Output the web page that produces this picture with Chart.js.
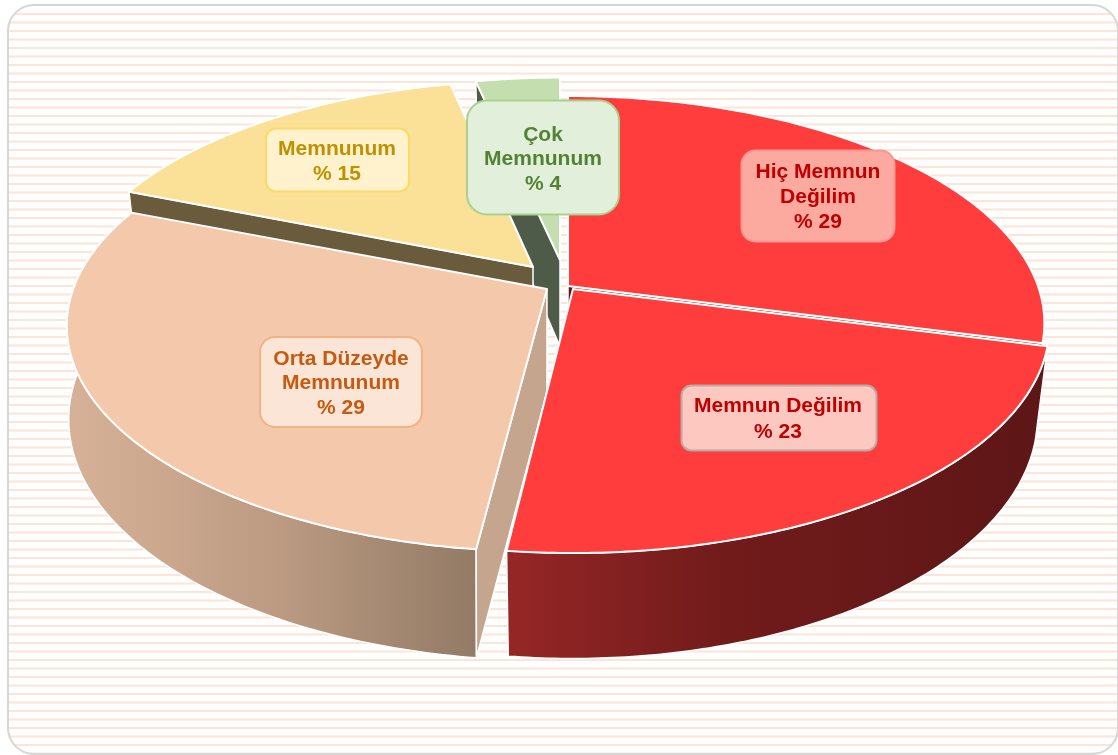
<!DOCTYPE html>
<html><head><meta charset="utf-8">
<style>html,body{margin:0;padding:0;background:#fff}canvas{display:block}</style>
<script src="https://cdn.jsdelivr.net/npm/chart.js@4"></script></head>
<body><canvas id="c" width="1118" height="755"></canvas>
<script>
const categories = ['Hiç Memnun Değilim','Memnun Değilim','Orta Düzeyde Memnunum','Memnunum','Çok Memnunum'];
const percentValues = [29,23,29,15,4];
const labelLines = [['Hiç Memnun','Değilim','% 29'],['Memnun Değilim','% 23'],['Orta Düzeyde','Memnunum','% 29'],['Memnunum','% 15'],['Çok','Memnunum','% 4']];
const topColors = ['#ff3d3d','#ff3d3d','#f4c8ab','#fbe197','#c5deb0'];

const P = {rx:470, ry:221, k:0.163, depth:91};
// per-slice placement of the exploded wedges (screen translate, scale, small boundary nudge in degrees)
const place = [
 {tx:568,ty:286,sx:1,sy:1,dz:1,shrink:0.025,a0:0,a1:0,cuts:['b'],cut:'#5f1616'},
 {tx:573,ty:289,sx:1,sy:1,dz:0.97,shrink:0.025,a0:0,a1:-0.4,cuts:[],wall:[[0,'#952626'],[0.4,'#721b1b'],[1,'#5e1616']],wx:[510,1040]},
 {tx:547,ty:289,sx:1.008,sy:0.995,dz:1,shrink:0.004,a0:0,a1:0,cuts:['a'],cut:'#c5a58d',apexZ:1.13,wall:[[0,'#d6b197'],[0.5,'#bc9b82'],[1,'#927a65']],wx:[72,478]},
 {tx:533,ty:267,sx:0.98,sy:0.98,dz:1,shrink:0.025,a0:0,a1:2.4,cuts:['a'],cut:'#695b3c'},
 {tx:560,ty:260,sx:0.96,sy:0.96,dz:0.95,shrink:0.025,a0:1.9,a1:0,cuts:['a'],cut:'#4f5b49'}
];
const drawOrder = [4,3,0,2,1];
const boxes = [
 {x:741.5,y:150.5,w:153,h:91,r:14,fill:'#fca99f',line:'#f29a92',text:'#c00000',cx:818,ys:[172,197,222]},
 {x:681.5,y:385.5,w:195,h:65,r:10,fill:'#fcc8c0',line:'#b9aaa6',text:'#c00000',cx:778,ys:[406,432]},
 {x:260,y:337,w:162,h:90,r:15,fill:'#fbe5d6',line:'#f4b183',text:'#c55a11',cx:341,ys:[359,383,408]},
 {x:266,y:128.5,w:143,h:63,r:10,fill:'#fff2cc',line:'#ffd966',text:'#bf9000',cx:337,ys:[149,174]},
 {x:467,y:100.5,w:152,h:114,r:20,fill:'#e2efda',line:'#a9d18e',text:'#548235',cx:543,ys:[135,159,184]}
];

function pt(pl,ang,r,z){
  // ang: Chart.js angle, -PI/2 at the top, clockwise
  const u=r*Math.cos(ang), v=r*Math.sin(ang), s=1/(1-P.k*v);
  return [pl.tx+P.rx*pl.sx*u*s*(1-z*pl.shrink), pl.ty+P.ry*pl.sy*v*s+z*P.depth*pl.dz*s];
}
function poly(ctx,pts){ctx.beginPath();pts.forEach((p,i)=>i?ctx.lineTo(p[0],p[1]):ctx.moveTo(p[0],p[1]));ctx.closePath();}
function arcPts(pl,a,b,z){const n=120,o=[];for(let i=0;i<=n;i++)o.push(pt(pl,a+(b-a)*i/n,1,z));return o;}

const solid3d = {
 id:'solid3d',
 beforeDraw(chart){
  const ctx=chart.ctx;ctx.save();
  ctx.fillStyle='#fff';ctx.fillRect(0,0,1118,755);
  ctx.beginPath();ctx.roundRect(8,5,1110,749,26);ctx.save();ctx.clip();
  ctx.fillStyle='#fce4d6';
  for(let y=13;y<755;y+=8.5)ctx.fillRect(8,y,1110,2);
  ctx.restore();
  ctx.strokeStyle='#d6d6d6';ctx.lineWidth=2;ctx.stroke();
  ctx.restore();
 },
 beforeDatasetsDraw(chart){
  const ctx=chart.ctx, arcs=chart.getDatasetMeta(0).data, ds=chart.data.datasets[0];
  ctx.save();ctx.lineJoin='round';
  drawOrder.forEach(i=>{
   const pl=place[i], el=arcs[i];
   const a=el.startAngle+pl.a0*Math.PI/180, b=el.endAngle+pl.a1*Math.PI/180;
   const white=(w)=>{ctx.strokeStyle='#fff';ctx.lineWidth=w;ctx.stroke();};
   // outer wall
   if(pl.wall){
    const g=ctx.createLinearGradient(pl.wx[0],0,pl.wx[1],0);
    pl.wall.forEach(s=>g.addColorStop(s[0],s[1]));
    poly(ctx,arcPts(pl,a,b,0).concat(arcPts(pl,a,b,1).reverse()));
    ctx.fillStyle=g;ctx.fill();white(1.5);
   }
   // visible cut faces
   pl.cuts.forEach(c=>{
    const t=c==='a'?a:b;
    poly(ctx,[pt(pl,t,0,0),pt(pl,t,1,0),pt(pl,t,1,1),pt(pl,t,0,pl.apexZ||1)]);
    ctx.fillStyle=pl.cut;ctx.fill();white(1.5);
   });
   // top surface
   poly(ctx,[pt(pl,a,0,0)].concat(arcPts(pl,a,b,0)));
   ctx.fillStyle=ds.backgroundColor[i];ctx.fill();white(2);
  });
  ctx.restore();
  return false;
 },
 afterDraw(chart){
  const ctx=chart.ctx;ctx.save();
  ctx.textAlign='center';ctx.textBaseline='middle';
  ctx.font='bold 21px "Liberation Sans", Arial, sans-serif';
  percentValues.forEach((_,i)=>{
   const b=boxes[i];
   ctx.beginPath();ctx.roundRect(b.x,b.y,b.w,b.h,b.r);
   ctx.fillStyle=b.fill;ctx.fill();ctx.strokeStyle=b.line;ctx.lineWidth=2;ctx.stroke();
   ctx.fillStyle=b.text;
   labelLines[i].forEach((t,j)=>ctx.fillText(t,b.cx,b.ys[j]));
  });
  ctx.restore();
 }
};

new Chart(document.getElementById('c'),{
 type:'pie',
 data:{labels:categories,datasets:[{data:percentValues,backgroundColor:topColors,borderColor:'#fff',borderWidth:2}]},
 options:{responsive:false,animation:false,rotation:0,
  plugins:{legend:{display:false},tooltip:{enabled:false},title:{display:false}}},
 plugins:[solid3d]
});
</script></body></html>
